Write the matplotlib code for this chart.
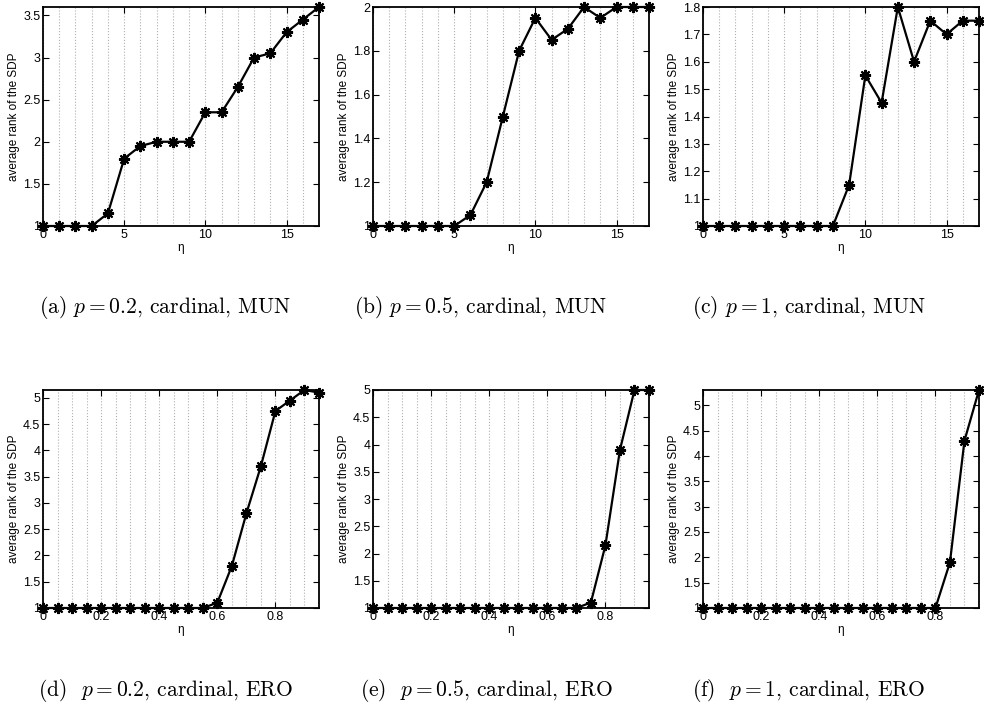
#!/usr/bin/env python3
# -*- coding: utf-8 -*-
"""Average SDP rank vs eta, six panels (MUN / ERO, p = 0.2, 0.5, 1)."""

import matplotlib
matplotlib.use("Agg")
import matplotlib.pyplot as plt
from matplotlib.ticker import MultipleLocator, FormatStrFormatter

plt.rcParams['font.family'] = ['Liberation Sans', 'DejaVu Sans']
plt.rcParams['mathtext.fontset'] = 'cm'

# eta grids
eta_mun = list(range(18))
eta_ero = [0.0, 0.05, 0.1, 0.15, 0.2, 0.25, 0.3, 0.35, 0.4, 0.45,
           0.5, 0.55, 0.6, 0.65, 0.7, 0.75, 0.8, 0.85, 0.9, 0.95]

# average rank, MUN
rank_a = [1, 1, 1, 1, 1.15, 1.8, 1.95, 2, 2, 2, 2.35, 2.35, 2.65, 3, 3.05, 3.3, 3.45, 3.6]
rank_b = [1, 1, 1, 1, 1, 1, 1.05, 1.2, 1.5, 1.8, 1.95, 1.85, 1.9, 2, 1.95, 2, 2, 2]
rank_c = [1, 1, 1, 1, 1, 1, 1, 1, 1, 1.15, 1.55, 1.45, 1.8, 1.6, 1.75, 1.7, 1.75, 1.75]

# average rank, ERO
rank_d = [1] * 12 + [1.1, 1.8, 2.8, 3.7, 4.75, 4.95, 5.15, 5.1]
rank_e = [1] * 15 + [1.1, 2.15, 3.9, 5, 5]
rank_f = [1] * 17 + [1.9, 4.3, 5.3]

captions = [
    r"(a) $p = 0.2$, cardinal, MUN",
    r"(b) $p = 0.5$, cardinal, MUN",
    r"(c) $p = 1$, cardinal, MUN",
    r"(d)  $p = 0.2$, cardinal, ERO",
    r"(e)  $p = 0.5$, cardinal, ERO",
    r"(f)  $p = 1$, cardinal, ERO",
]

W, H = 984, 706
fig = plt.figure(figsize=(W / 100, H / 100), dpi=100)


def px_axes(left, top, right, bottom):
    return fig.add_axes([left / W, 1 - bottom / H, (right - left) / W, (bottom - top) / H])


panels = [
    # (x, y, ymax, ystep, xmax, xmajor, xminor, box, caption center)
    (eta_mun, rank_a, 3.6, 0.5, 17, 5, 1, (43, 7, 319, 226), (165, 307)),
    (eta_mun, rank_b, 2.0, 0.2, 17, 5, 1, (373, 7, 649, 226), (481, 307)),
    (eta_mun, rank_c, 1.8, 0.1, 17, 5, 1, (703, 7, 979, 226), (809, 307)),
    (eta_ero, rank_d, 5.15, 0.5, 0.95, 0.2, 0.05, (43, 390, 319, 608), (166, 690)),
    (eta_ero, rank_e, 5.0, 0.5, 0.95, 0.2, 0.05, (373, 390, 649, 608), (486, 690)),
    (eta_ero, rank_f, 5.3, 0.5, 0.95, 0.2, 0.05, (703, 390, 979, 608), (809, 690)),
]

for (x, y, ymax, ystep, xmax, xmaj, xmin, box, cap), text in zip(panels, captions):
    ax = px_axes(*box)
    ax.plot(x, y, color='black', linewidth=1.6, marker=(8, 2, 0),
            markersize=8, markeredgewidth=1.5, clip_on=False, zorder=3)
    ax.set_xlim(0, xmax)
    ax.set_ylim(1, ymax)
    ax.xaxis.set_major_locator(MultipleLocator(xmaj))
    ax.xaxis.set_minor_locator(MultipleLocator(xmin))
    ax.yaxis.set_major_locator(MultipleLocator(ystep))
    ax.xaxis.set_major_formatter(FormatStrFormatter('%g'))
    ax.yaxis.set_major_formatter(FormatStrFormatter('%g'))
    ax.grid(axis='x', which='both', linestyle=':', color='#b0b0b0', linewidth=0.8)
    ax.tick_params(which='both', direction='in', top=True, right=True,
                   labelsize=9, pad=2)
    ax.tick_params(which='major', length=4, width=0.8)
    ax.tick_params(which='minor', length=0)
    for s in ax.spines.values():
        s.set_linewidth(1.3)
    ax.set_xlabel("η", fontsize=8.5, labelpad=1)
    ax.set_ylabel("average rank of the SDP", fontsize=8.5, labelpad=2)
    fig.text(cap[0] / W, 1 - cap[1] / H, text, family='cmr10', fontsize=15.5,
             ha='center', va='center')

fig.savefig("out.png", dpi=100)
